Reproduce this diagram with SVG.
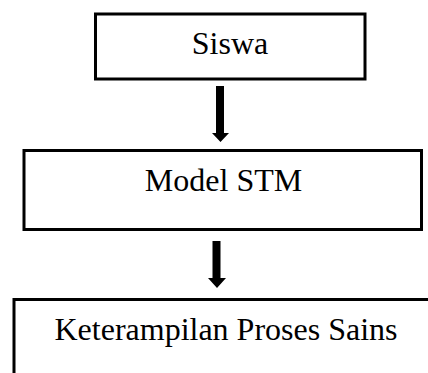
<svg xmlns="http://www.w3.org/2000/svg" width="428" height="373" viewBox="0 0 428 373">
<style>
.box{fill:#fff;stroke:#000;stroke-width:3}
.lbl{font-family:"Liberation Serif","Times New Roman",serif;font-size:32px;fill:#000;text-anchor:middle}
.arr{fill:#000}
</style>
<rect width="428" height="373" fill="#fff"/>
<g id="node-siswa">
<rect class="box" x="95.5" y="14" width="269.5" height="65"/>
<text class="lbl" x="230" y="54">Siswa</text>
</g>
<g id="node-model">
<rect class="box" x="24" y="150.5" width="397.5" height="79"/>
<text class="lbl" x="223.5" y="191">Model STM</text>
</g>
<g id="node-kps">
<rect class="box" x="14" y="299.5" width="430" height="100"/>
<text class="lbl" x="226" y="340">Keterampilan Proses Sains</text>
</g>
<g id="connectors">
<polygon class="arr" points="216,86 224,86 224,133 229,133 220.5,142 212,133 216,133"/>
<polygon class="arr" points="212.5,241 220.5,241 220.5,278 226,278 217,288 208,278 212.5,278"/>
</g>
</svg>
